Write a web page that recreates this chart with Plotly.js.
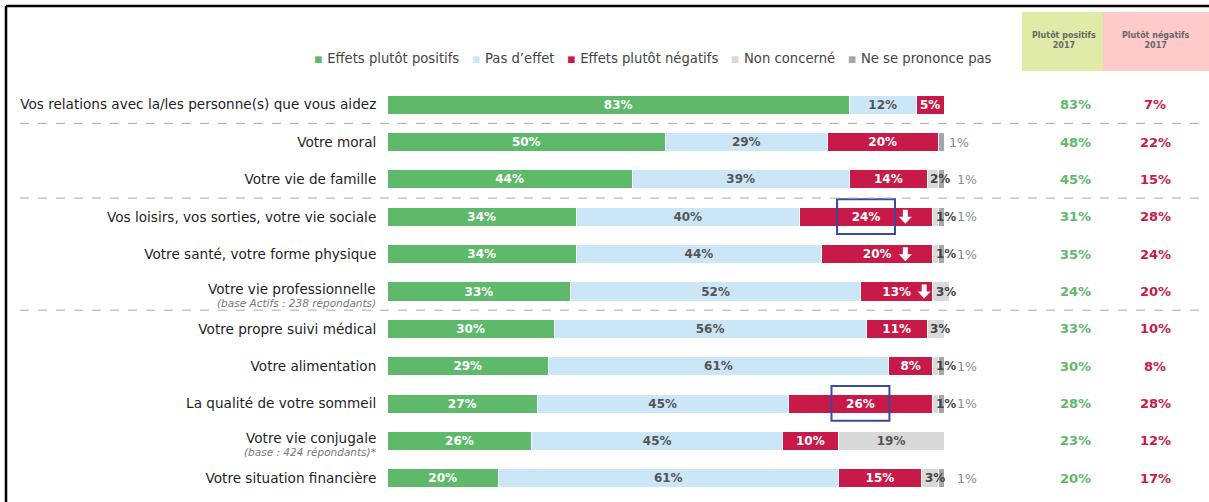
<!DOCTYPE html>
<html><head><meta charset="utf-8">
<script src="https://cdn.plot.ly/plotly-3.0.1.min.js"></script>
<style>body{margin:0;background:#fff}</style>
</head><body><div id="chart" style="width:1209px;height:502px"></div>
<script>
const categories = [
  'Vos relations avec la/les personne(s) que vous aidez',
  'Votre moral',
  'Votre vie de famille',
  'Vos loisirs, vos sorties, votre vie sociale',
  'Votre santé, votre forme physique',
  'Votre vie professionnelle',
  'Votre propre suivi médical',
  'Votre alimentation',
  'La qualité de votre sommeil',
  'Votre vie conjugale',
  'Votre situation financière'
];
const subtitles = ['', '', '', '', '', '(base Actifs : 238 répondants)', '', '', '', '(base : 424 répondants)*', ''];
const seriesNames = ['Effets plutôt positifs', 'Pas d’effet', 'Effets plutôt négatifs', 'Non concerné', 'Ne se prononce pas'];
const positifs    = [83, 50, 44, 34, 34, 33, 30, 29, 27, 26, 20];
const sansEffet   = [12, 29, 39, 40, 44, 52, 56, 61, 45, 45, 61];
const negatifs    = [5, 20, 14, 24, 20, 13, 11, 8, 26, 10, 15];
const nonConcerne = [0, 0, 2, 1, 1, 3, 3, 1, 1, 19, 3];
const nspp        = [0, 1, 1, 1, 1, 0, 0, 1, 1, 0, 1];
const positifs2017 = [83, 48, 45, 31, 35, 24, 33, 30, 28, 23, 20];
const negatifs2017 = [7, 22, 15, 28, 24, 20, 10, 8, 28, 12, 17];
const baisse   = [false, false, false, true, true, true, false, false, false, false, false];
const surligne = [false, false, false, true, false, false, false, false, true, false, false];
const headers = ['Plutôt positifs<br>2017', 'Plutôt négatifs<br>2017'];

const colors = ['#5eb96b', '#cbe7f7', '#c81a48', '#d9d9d9', '#a6a6a6'];
const textColors = ['#ffffff', '#555555', '#ffffff', '#555555', '#555555'];
const series = [positifs, sansEffet, negatifs, nonConcerne, nspp];
const FONT = 'DejaVu Sans, Verdana, sans-serif';

// pixel geometry
const W = 1209, H = 502, L = 387, T = 86, B = 5;
const pxPerUnit = 5.57;
const plotW = W - L;
const xMax = plotW / pxPerUnit;
const px = v => (v - L) / plotW;          // page px -> paper x
const py = v => (H - B - v) / (H - B - T); // page px -> paper y

const traces = series.map((vals, s) => ({
  type: 'bar', orientation: 'h', name: seriesNames[s],
  y: categories, x: vals,
  marker: {color: colors[s], line: {color: '#ffffff', width: 1}},
  text: vals.map(v => v >= 5 ? v + '%' : ''),
  textposition: 'inside', insidetextanchor: 'middle', textangle: 0, constraintext: 'none',
  textfont: {family: FONT, size: 12, color: textColors[s], weight: 'bold'},
  hoverinfo: 'skip', showlegend: false, cliponaxis: false
}));

const annotations = [];
const shapes = [];

categories.forEach((c, i) => {
  const negEnd = positifs[i] + sansEffet[i] + negatifs[i];
  const hasNc = nonConcerne[i] > 0 && nonConcerne[i] < 5;
  if (hasNc) {
    annotations.push({x: negEnd, y: c, xref: 'x', yref: 'y', xanchor: 'left', xshift: 1,
      text: '<b>' + nonConcerne[i] + '%</b>', showarrow: false,
      font: {family: FONT, size: 12, color: '#444444'}});
  }
  if (nspp[i] > 0) {
    const end = negEnd + nonConcerne[i] + nspp[i];
    annotations.push({x: end, y: c, xref: 'x', yref: 'y', xanchor: 'left', xshift: hasNc ? 11 : 3,
      text: nspp[i] + '%', showarrow: false,
      font: {family: FONT, size: 12.5, color: '#838b95'}});
  }
  // white block arrow for decreases, right of the centred label
  if (baisse[i]) {
    const off = Math.max(-27.5, -negatifs[i] * pxPerUnit / 2 + 27.5);
    const f = v => (off + v).toFixed(1);
    shapes.push({type: 'path', xref: 'x', yref: 'y', xsizemode: 'pixel', ysizemode: 'pixel',
      xanchor: negEnd, yanchor: i,
      path: `M ${f(-2.5)},7 L ${f(2.5)},7 L ${f(2.5)},0 L ${f(6.5)},0 L ${f(0)},-7 L ${f(-6.5)},0 L ${f(-2.5)},0 Z`,
      fillcolor: '#ffffff', line: {width: 0}});
  }
  // labels with a subtitle: drawn as two annotations
  if (subtitles[i]) {
    annotations.push({x: 0, y: c, xref: 'paper', yref: 'y', xanchor: 'right', yanchor: 'middle',
      xshift: -9, yshift: 3, text: c, showarrow: false,
      font: {family: FONT, size: 13.6, color: '#1e1e1e'}});
    annotations.push({x: 0, y: c, xref: 'paper', yref: 'y', xanchor: 'right', yanchor: 'middle',
      xshift: -9, yshift: -11, text: '<i>' + subtitles[i] + '</i>', showarrow: false,
      font: {family: FONT, size: 10.5, color: '#777777'}});
  }
  // 2017 columns
  annotations.push({x: px(1075), y: c, xref: 'paper', yref: 'y', xanchor: 'center',
    text: '<b>' + positifs2017[i] + '%</b>', showarrow: false,
    font: {family: FONT, size: 13, color: '#5eb96b'}});
  annotations.push({x: px(1155), y: c, xref: 'paper', yref: 'y', xanchor: 'center',
    text: '<b>' + negatifs2017[i] + '%</b>', showarrow: false,
    font: {family: FONT, size: 13, color: '#c81a48'}});
  if (surligne[i]) {
    const mid = positifs[i] + sansEffet[i] + negatifs[i] / 2;
    shapes.push({type: 'rect', xref: 'x', yref: 'y', x0: mid - 5.2, x1: mid + 5.2,
      y0: i - 0.47, y1: i + 0.46, line: {color: '#3a4a9c', width: 2}, fillcolor: 'rgba(0,0,0,0)'});
  }
});

// header boxes
shapes.push({type: 'rect', xref: 'paper', yref: 'paper', x0: px(1022), x1: px(1103), y0: py(71), y1: py(12),
  fillcolor: '#e0eba8', line: {width: 0}, layer: 'below'});
shapes.push({type: 'rect', xref: 'paper', yref: 'paper', x0: px(1103), x1: px(1209), y0: py(71), y1: py(12),
  fillcolor: '#ffcaca', line: {width: 0}, layer: 'below'});
[[1064, headers[0]], [1156, headers[1]]].forEach(([xx, t]) => annotations.push({
  x: px(xx), y: py(40), xref: 'paper', yref: 'paper', xanchor: 'center', yanchor: 'middle', align: 'center',
  text: '<b>' + t + '</b>', showarrow: false, font: {family: FONT, size: 8, color: '#666666'}}));

// legend as text
const legendText = seriesNames.map((n, s) =>
  '<span style="color:' + colors[s] + '">▪</span> ' + n).join('\u00a0\u00a0\u00a0');
annotations.push({x: px(312), y: py(58), xref: 'paper', yref: 'paper', xanchor: 'left', yanchor: 'middle',
  text: legendText, showarrow: false, font: {family: FONT, size: 13.2, color: '#444444'}});

// dashed separators between groups
[0.5, 2.5, 5.5].forEach(y => shapes.push({type: 'line', xref: 'paper', yref: 'y',
  x0: px(20), x1: px(1200), y0: y, y1: y, line: {color: '#aaaaaa', width: 1, dash: 'dash'}}));

// frame (top + left)
shapes.push({type: 'line', xref: 'paper', yref: 'paper', x0: px(6), x1: px(1209), y0: py(6), y1: py(6),
  line: {color: '#000000', width: 2.5}});
shapes.push({type: 'line', xref: 'paper', yref: 'paper', x0: px(6), x1: px(6), y0: py(6), y1: py(505),
  line: {color: '#000000', width: 2.5}});

const layout = {
  width: W, height: H, barmode: 'stack', bargap: 0.49,
  margin: {l: L, r: 0, t: T, b: B},
  paper_bgcolor: '#ffffff', plot_bgcolor: '#ffffff',
  font: {family: FONT, color: '#222222'},
  xaxis: {range: [0, xMax], visible: false, fixedrange: true},
  yaxis: {type: 'category', autorange: 'reversed', tickvals: categories,
    ticktext: categories.map((c, i) => subtitles[i] ? '' : c),
    ticks: 'outside', ticklen: 7, tickcolor: 'rgba(0,0,0,0)', showline: false, showgrid: false,
    tickfont: {family: FONT, size: 13.6, color: '#1e1e1e'}, fixedrange: true},
  showlegend: false,
  annotations: annotations, shapes: shapes
};
Plotly.newPlot('chart', traces, layout, {displayModeBar: false, staticPlot: true});
</script></body></html>
